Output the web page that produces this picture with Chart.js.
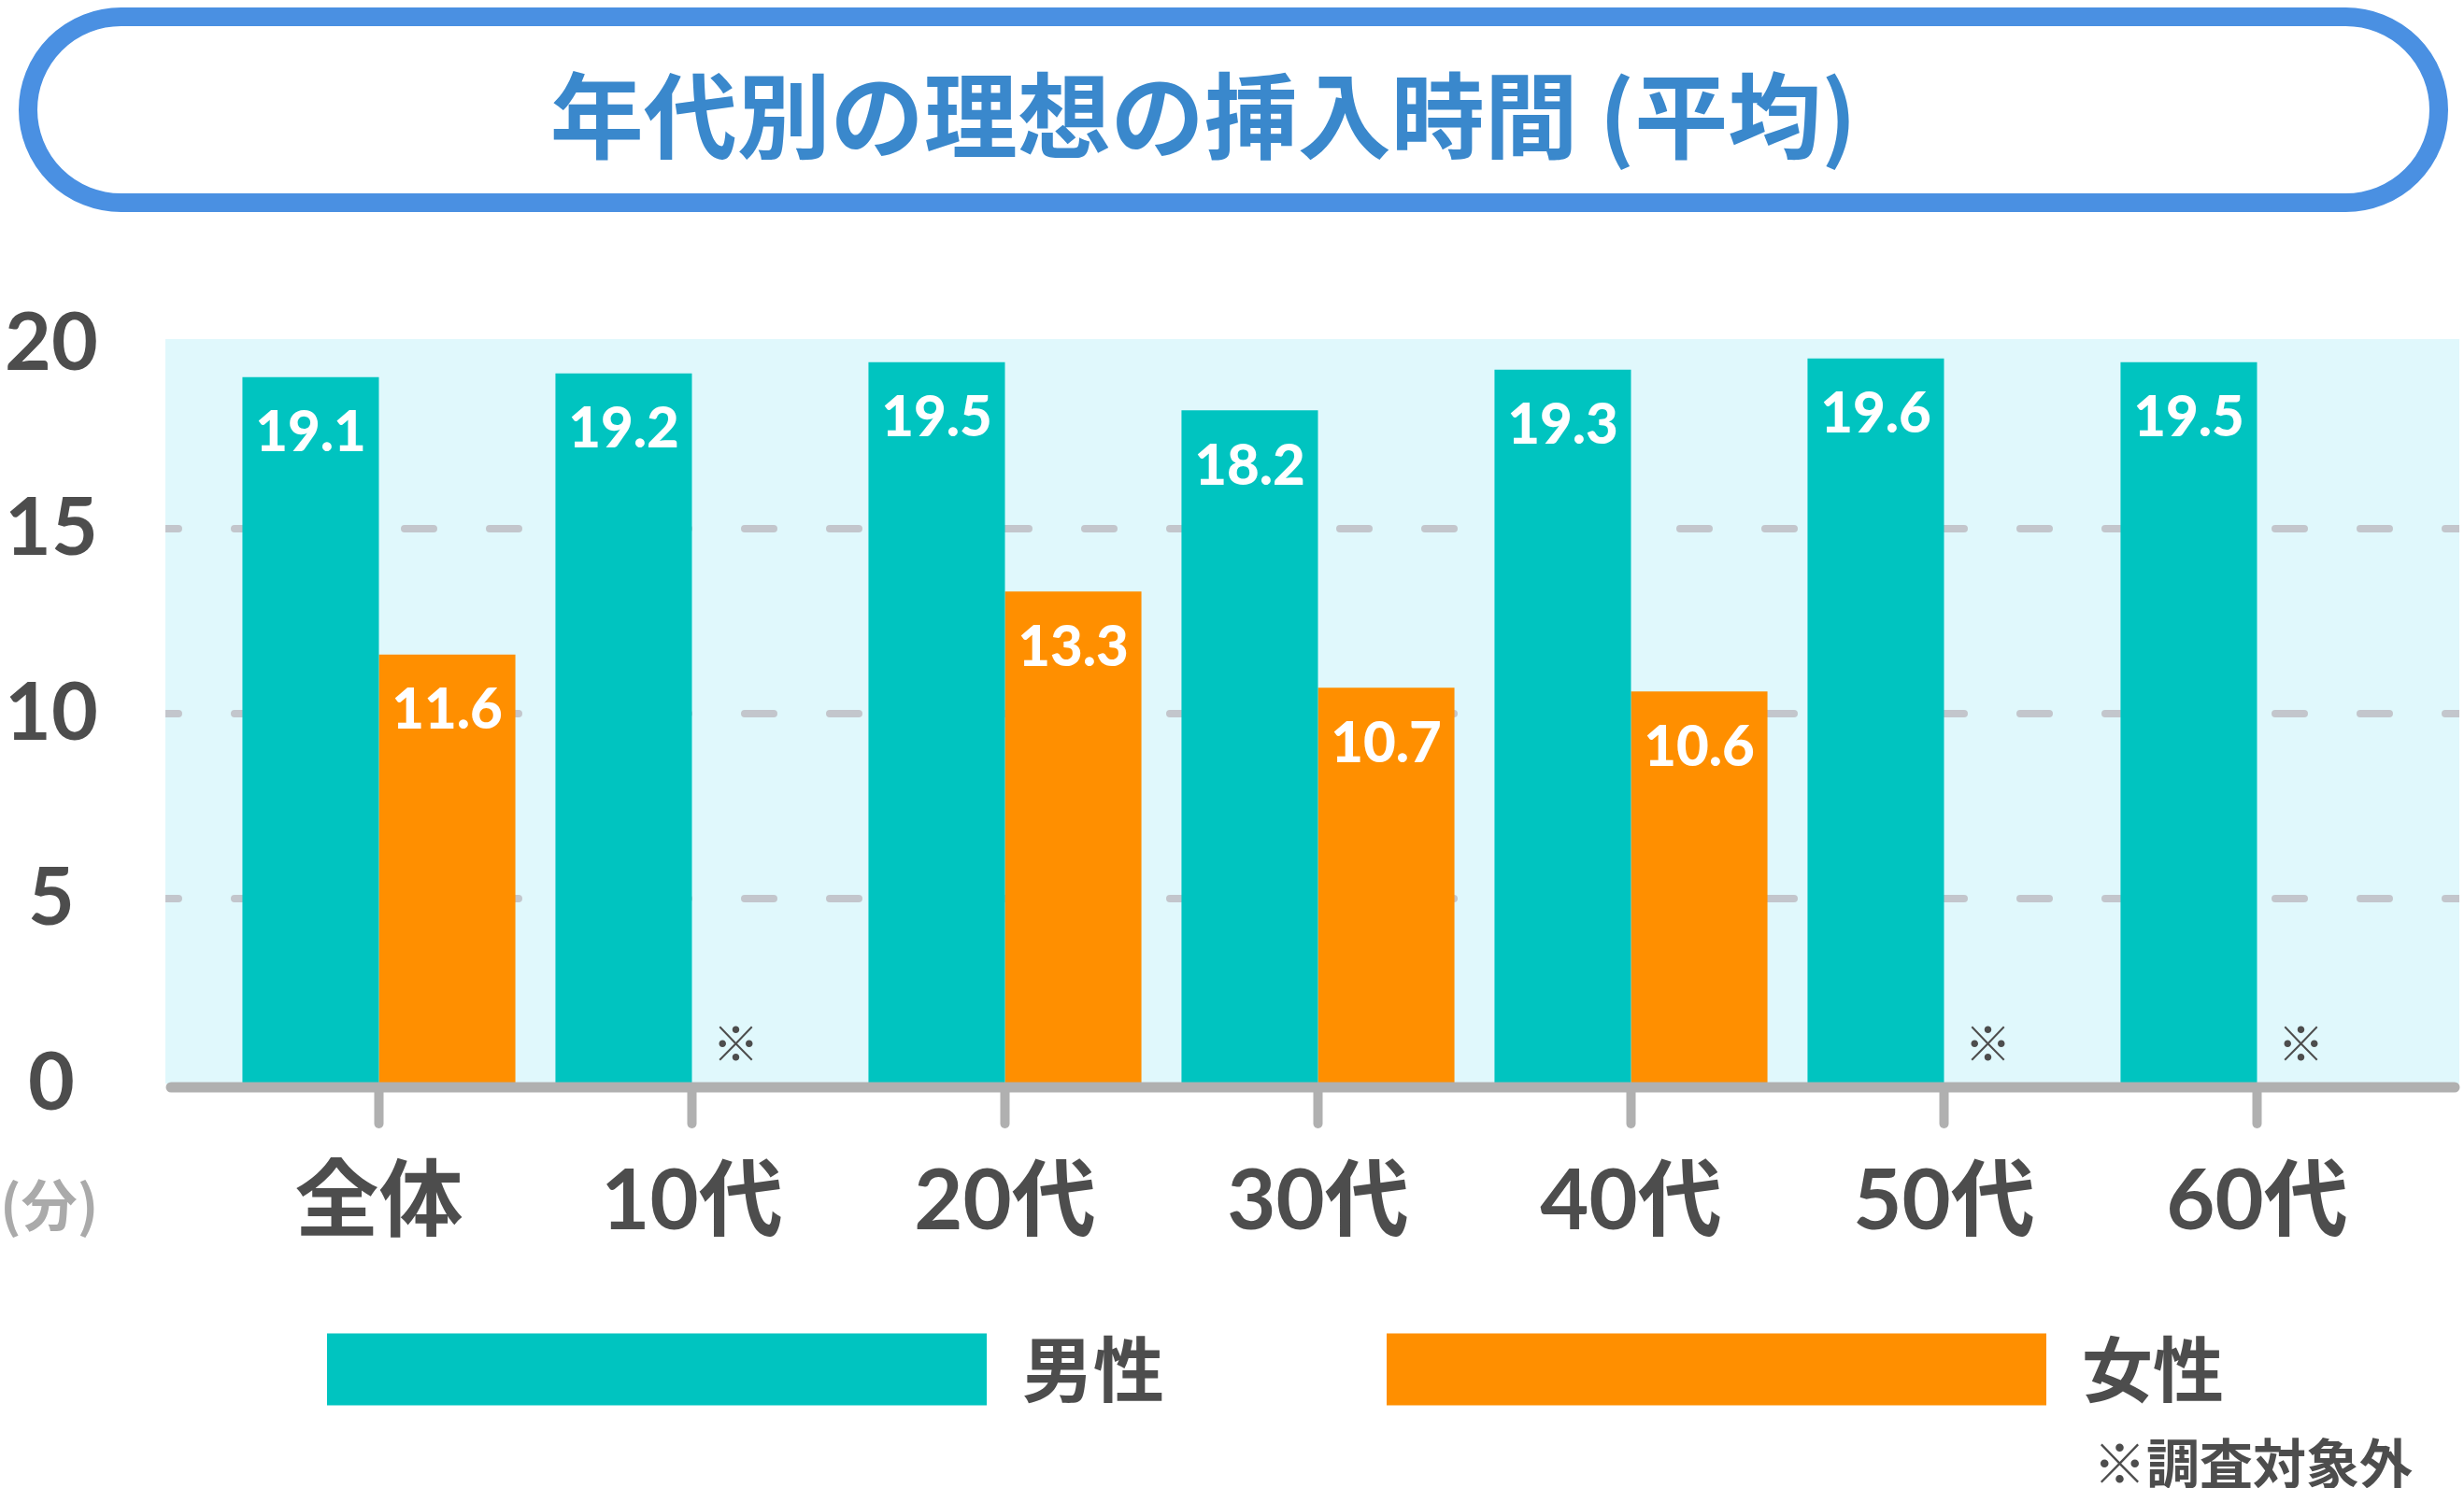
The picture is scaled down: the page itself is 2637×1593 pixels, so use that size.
<!DOCTYPE html>
<html lang="ja">
<head>
<meta charset="utf-8">
<title>年代別の理想の挿入時間（平均）</title>
<script src="https://cdn.jsdelivr.net/npm/chart.js@4.4.1/dist/chart.umd.min.js"></script>
<style>
  html, body { margin: 0; padding: 0; background: #ffffff; }
  #wrap { position: relative; width: 2637px; height: 1593px; }
</style>
</head>
<body>
<div id="wrap"><canvas id="c"></canvas></div>
<script>
// ---- data ----
const titleText = '年代別の理想の挿入時間 (平均)';
const categories = ['全体', '10代', '20代', '30代', '40代', '50代', '60代'];
const maleValues = [19.1, 19.2, 19.5, 18.2, 19.3, 19.6, 19.5];
const femaleValues = [11.6, null, 13.3, 10.7, 10.6, null, null];
const seriesNames = ['男性', '女性'];
const yTicks = [0, 5, 10, 15, 20];
const unitLabel = '(分)';
const missingMark = '※';
const footnote = '※調査対象外';

// ---- style ----
const TEAL = '#00c4c0';
const ORANGE = '#ff8f00';
const TEXT = '#4d4d4d';
const AXIS = '#b0b0b0';
const GRID = '#c3c6cc';
const BG = '#e0f8fc';
const PILL = '#4a90e2';
const TITLE = '#3a88cc';
const JP = '"Noto Sans CJK JP", sans-serif';
const NUM = 'Lato, "Noto Sans CJK JP", sans-serif';

const decorPlugin = {
  id: 'decor',
  beforeDraw(chart) {
    const ctx = chart.ctx;
    const a = chart.chartArea;
    const bgL = a.left - 61, bgR = a.right + 49, bgT = a.top - 5, bgB = chart.scales.y.getPixelForValue(0);
    ctx.save();
    ctx.fillStyle = '#ffffff';
    ctx.fillRect(0, 0, chart.width, chart.height);
    ctx.fillStyle = BG;
    ctx.fillRect(bgL, bgT, bgR - bgL, bgB - bgT);
    // title pill
    ctx.strokeStyle = PILL;
    ctx.lineWidth = 20;
    ctx.beginPath();
    ctx.roundRect(30, 18, 2580, 199, 99.5);
    ctx.stroke();
    ctx.fillStyle = TITLE;
    ctx.font = 'bold 100px ' + JP;
    ctx.textAlign = 'center';
    ctx.textBaseline = 'middle';
    ctx.fillText(titleText, 1288, 124);
    // unit label
    ctx.fillStyle = '#aaaaaa';
    ctx.font = 'bold 60px ' + JP;
    ctx.textAlign = 'left';
    ctx.fillText(unitLabel, 0, 1290);
    // footnote
    ctx.fillStyle = TEXT;
    ctx.font = 'bold 57px ' + JP;
    ctx.textAlign = 'right';
    ctx.fillText(footnote, 2582, 1566);
    ctx.restore();
  },
  beforeDatasetsDraw(chart) {
    const ctx = chart.ctx;
    const a = chart.chartArea;
    const y = chart.scales.y;
    const bgL = a.left - 61, bgR = a.right + 49;
    ctx.save();
    ctx.beginPath();
    ctx.rect(bgL, a.top - 5, bgR - bgL, y.getPixelForValue(0) - a.top + 5);
    ctx.clip();
    ctx.strokeStyle = GRID;
    ctx.lineWidth = 8;
    ctx.lineCap = 'round';
    ctx.setLineDash([31, 60]);
    ctx.lineDashOffset = 17;
    yTicks.forEach(v => {
      if (v === 0 || v === 20) return;
      const py = y.getPixelForValue(v);
      ctx.beginPath();
      ctx.moveTo(bgL, py);
      ctx.lineTo(bgR, py);
      ctx.stroke();
    });
    ctx.restore();
  },
  afterDatasetsDraw(chart) {
    const ctx = chart.ctx;
    const a = chart.chartArea;
    const x = chart.scales.x;
    const y = chart.scales.y;
    const zero = y.getPixelForValue(0);
    ctx.save();
    // axis line
    ctx.strokeStyle = AXIS;
    ctx.lineCap = 'round';
    ctx.lineWidth = 11;
    ctx.beginPath();
    ctx.moveTo(a.left - 55, zero + 4);
    ctx.lineTo(a.right + 44, zero + 4);
    ctx.stroke();
    ctx.lineWidth = 10;
    categories.forEach((c, i) => {
      const px = x.getPixelForValue(i);
      ctx.beginPath();
      ctx.moveTo(px, zero + 6);
      ctx.lineTo(px, zero + 43);
      ctx.stroke();
    });
    // value labels
    ctx.fillStyle = '#ffffff';
    ctx.font = '900 60px ' + NUM;
    ctx.textAlign = 'center';
    ctx.textBaseline = 'middle';
    chart.data.datasets.forEach((ds, di) => {
      const meta = chart.getDatasetMeta(di);
      meta.data.forEach((bar, i) => {
        const v = ds.data[i];
        if (v === null || v === undefined) return;
        ctx.fillText(v.toFixed(1), bar.x, bar.y + 60);
      });
    });
    // missing marks
    ctx.fillStyle = TEXT;
    ctx.font = '50px ' + JP;
    femaleValues.forEach((v, i) => {
      if (v !== null) return;
      ctx.fillText(missingMark, x.getPixelForValue(i) + 47, zero - 43);
    });
    ctx.restore();
  }
};

function build() {
  new Chart(document.getElementById('c'), {
    type: 'bar',
    data: {
      labels: categories,
      datasets: [
        { label: seriesNames[0], data: maleValues, backgroundColor: TEAL, borderWidth: 0 },
        { label: seriesNames[1], data: femaleValues, backgroundColor: ORANGE, borderWidth: 0 }
      ]
    },
    options: {
      responsive: true,
      maintainAspectRatio: false,
      devicePixelRatio: 1,
      animation: false,
      datasets: { bar: { categoryPercentage: 0.872, barPercentage: 1.0 } },
      layout: { padding: { top: 368, left: 93, right: 0, bottom: 78.5 } },
      scales: {
        x: {
          grid: { display: false, drawTicks: false },
          border: { display: false },
          ticks: { color: TEXT, font: { family: NUM, size: 90, weight: 'bold' }, padding: -181, mirror: true, maxRotation: 0, autoSkip: false },
          afterFit(s) { s.height = 29.5; }
        },
        y: {
          min: 0, max: 20,
          grid: { display: false, drawTicks: false },
          border: { display: false },
          ticks: { stepSize: 5, color: TEXT, font: { family: NUM, size: 86, weight: 'bold' }, mirror: true, crossAlign: 'center', padding: -233 },
          afterFit(s) { s.width = 145; }
        },
        yR: {
          axis: 'y', position: 'right', display: true,
          grid: { display: false, drawTicks: false },
          border: { display: false },
          ticks: { display: false },
          afterFit(s) { s.width = 54; }
        }
      },
      plugins: {
        title: { display: false },
        tooltip: { enabled: false },
        legend: {
          display: true,
          position: 'bottom',
          labels: {
            boxWidth: 706, boxHeight: 77, padding: 238,
            color: TEXT,
            font: { family: JP, size: 76, weight: 'bold' }
          }
        }
      }
    },
    plugins: [decorPlugin]
  });
}

const fontLoads = [
  'bold 100px "Noto Sans CJK JP"', '50px "Noto Sans CJK JP"', '900 60px Lato', 'bold 86px Lato'
].map(f => document.fonts.load(f).catch(() => null));
Promise.all(fontLoads).then(build, build);
</script>
</body>
</html>
